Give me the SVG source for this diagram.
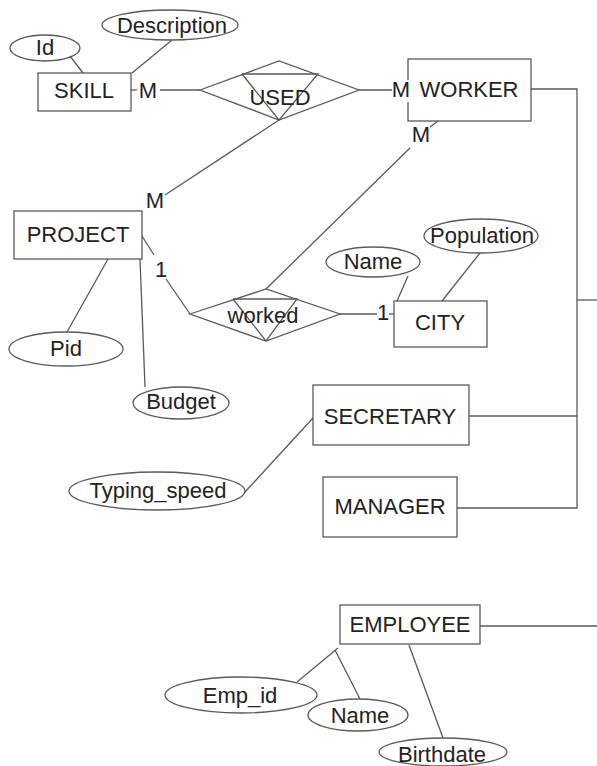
<svg xmlns="http://www.w3.org/2000/svg" width="597" height="766" viewBox="0 0 597 766">
<style>
  .s{fill:none;stroke:#5a5a5a;stroke-width:1.3}
  .b{fill:#fff;stroke:#5a5a5a;stroke-width:1.3}
  text{font-family:"Liberation Sans",Arial,sans-serif;font-size:22px;fill:#222;text-anchor:middle}
</style>
<rect width="597" height="766" fill="#fff"/>
<g id="connectors" class="s">
  <line x1="70" y1="56" x2="83" y2="73"/>
  <line x1="172" y1="40" x2="132" y2="73"/>
  <line x1="131" y1="90" x2="137" y2="90"/>
  <line x1="160" y1="90" x2="200" y2="90"/>
  <line x1="359" y1="90" x2="392" y2="90"/>
  <line x1="279" y1="120" x2="165" y2="195"/>
  <line x1="438" y1="121" x2="430" y2="127"/>
  <line x1="410" y1="148" x2="266" y2="289"/>
  <line x1="142" y1="236" x2="154" y2="255"/>
  <line x1="166" y1="279" x2="190" y2="314"/>
  <line x1="340" y1="314" x2="377" y2="314"/>
  <line x1="389" y1="314" x2="394" y2="314"/>
  <line x1="408" y1="276" x2="397" y2="301"/>
  <line x1="480" y1="253" x2="442" y2="301"/>
  <line x1="108" y1="259" x2="67" y2="332"/>
  <line x1="140" y1="259" x2="145" y2="387"/>
  <line x1="245" y1="492" x2="313" y2="418"/>
  <polyline points="531,89 577,89 577,508 457,508"/>
  <line x1="469" y1="416" x2="577" y2="416"/>
  <line x1="577" y1="300" x2="597" y2="300"/>
  <line x1="480" y1="626" x2="597" y2="626"/>
  <line x1="338" y1="648" x2="297" y2="682"/>
  <line x1="335" y1="650" x2="360" y2="699"/>
  <line x1="409" y1="645" x2="443" y2="738"/>
</g>
<g id="Id"><ellipse class="s" cx="45" cy="48" rx="35" ry="13"/><text x="45" y="55">Id</text></g>
<g id="Description"><ellipse class="s" cx="170" cy="25" rx="68" ry="15"/><text x="172" y="33">Description</text></g>
<g id="SKILL"><rect class="b" x="38" y="73" width="93" height="38"/><text x="84" y="98">SKILL</text></g>
<g id="label-skill-M"><text x="148" y="98">M</text></g>
<g id="USED">
  <polygon class="s" points="200,90 279,61 359,90 279,120"/>
  <polyline class="s" points="242,74 318,74 279,120 242,74"/>
  <text x="280" y="105">USED</text>
</g>
<g id="WORKER">
  <rect class="b" x="408" y="59" width="123" height="62"/>
  <rect x="393" y="80" width="18" height="22" fill="#fff"/>
  <text x="401" y="97">M</text>
  <text x="469" y="97">WORKER</text>
</g>
<g id="label-worker-M2"><text x="421" y="142">M</text></g>
<g id="label-project-M"><text x="155" y="208">M</text></g>
<g id="PROJECT"><rect class="b" x="14" y="211" width="128" height="48"/><text x="78" y="242">PROJECT</text></g>
<g id="label-project-1"><text x="161" y="277">1</text></g>
<g id="worked">
  <polygon class="s" points="190,314 266,289 340,314 266,341"/>
  <polyline class="s" points="233,299 297,299 266,341 233,299"/>
  <text x="263" y="323">worked</text>
</g>
<g id="label-city-1"><text x="383" y="320">1</text></g>
<g id="CITY"><rect class="b" x="394" y="301" width="93" height="46"/><text x="440" y="330">CITY</text></g>
<g id="CityName"><ellipse class="s" cx="373" cy="262" rx="47" ry="15"/><text x="373" y="269">Name</text></g>
<g id="Population"><ellipse class="s" cx="481" cy="236" rx="57" ry="17"/><text x="482" y="243">Population</text></g>
<g id="Pid"><ellipse class="s" cx="66" cy="349" rx="57" ry="17"/><text x="66" y="356">Pid</text></g>
<g id="Budget"><ellipse class="s" cx="181" cy="403" rx="48" ry="16"/><text x="181" y="409">Budget</text></g>
<g id="SECRETARY"><rect class="b" x="313" y="385" width="156" height="60"/><text x="390" y="424">SECRETARY</text></g>
<g id="Typing_speed"><ellipse class="s" cx="157" cy="491" rx="88" ry="19"/><text x="158" y="498">Typing_speed</text></g>
<g id="MANAGER"><rect class="b" x="323" y="477" width="134" height="60"/><text x="390" y="514">MANAGER</text></g>
<g id="EMPLOYEE"><rect class="b" x="340" y="605" width="140" height="39"/><text x="410" y="632">EMPLOYEE</text></g>
<g id="Emp_id"><ellipse class="s" cx="241" cy="695" rx="76" ry="18"/><text x="240" y="703">Emp_id</text></g>
<g id="EmpName"><ellipse class="s" cx="358" cy="715" rx="50" ry="16"/><text x="360" y="723">Name</text></g>
<g id="Birthdate"><ellipse class="s" cx="443" cy="752" rx="64" ry="14"/><text x="442" y="762">Birthdate</text></g>
</svg>
